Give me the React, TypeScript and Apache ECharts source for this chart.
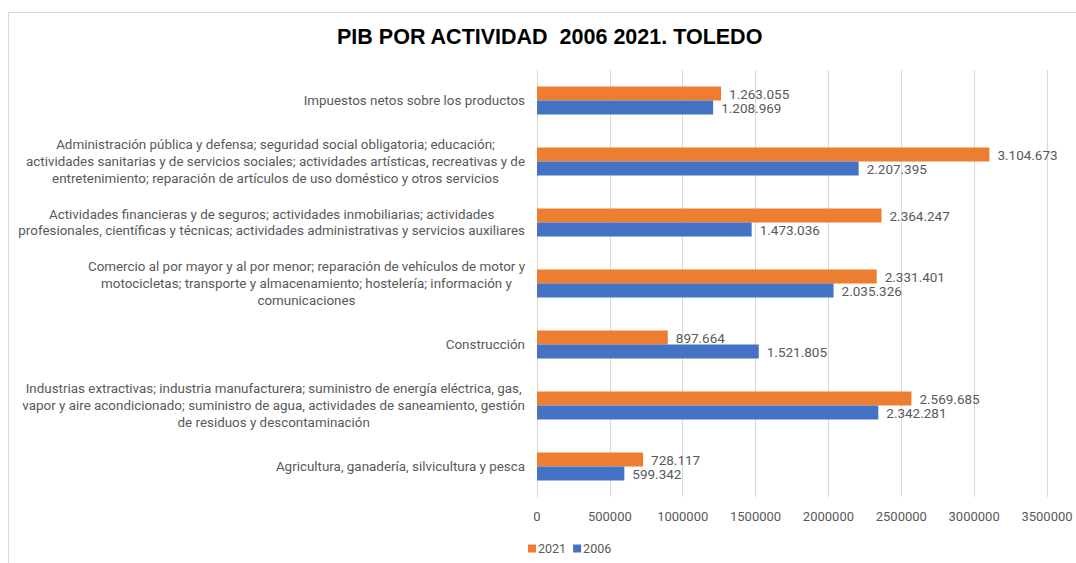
import React, { useEffect, useRef } from "react";
import * as echarts from "echarts";

// Categories listed bottom-to-top (as the category axis draws them)
const categories: string[] = [
  "Agricultura, ganadería, silvicultura y pesca",
  "Industrias extractivas; industria manufacturera; suministro de energía eléctrica, gas,\nvapor y aire acondicionado; suministro de agua, actividades de saneamiento, gestión\nde residuos y descontaminación",
  "Construcción",
  "Comercio al por mayor y al por menor; reparación de vehículos de motor y\nmotocicletas; transporte y almacenamiento; hostelería; información y\ncomunicaciones",
  "Actividades financieras y de seguros; actividades inmobiliarias; actividades\nprofesionales, científicas y técnicas; actividades administrativas y servicios auxiliares",
  "Administración pública y defensa; seguridad social obligatoria; educación;\nactividades sanitarias y de servicios sociales; actividades artísticas, recreativas y de\nentretenimiento; reparación de artículos de uso doméstico y otros servicios",
  "Impuestos netos sobre los productos",
];

const values2021: number[] = [728117, 2569685, 897664, 2331401, 2364247, 3104673, 1263055];
const values2006: number[] = [599342, 2342281, 1521805, 2035326, 1473036, 2207395, 1208969];

const xTicksMax = 3500000;
const xTickStep = 500000;

const GRAY = "#595959";
const LABEL_FONT = "Roboto, 'Noto Sans', sans-serif";

function fmt(n: number): string {
  return String(Math.round(n)).replace(/\B(?=(\d{3})+(?!\d))/g, ".");
}

export default function App() {
  const ref = useRef<HTMLDivElement>(null);

  useEffect(() => {
    if (!ref.current) return;
    const chart = echarts.init(ref.current, null, { renderer: "svg" });
    const dataLabel = {
      show: true,
      position: "right",
      distance: 8,
      color: GRAY,
      fontSize: 13.5,
      fontFamily: LABEL_FONT,
      formatter: (p: any) => fmt(p.value),
    };
    chart.setOption({
      animation: false,
      backgroundColor: "#ffffff",
      title: {
        text: "PIB POR ACTIVIDAD  2006 2021. TOLEDO",
        left: 332,
        top: 21,
        textStyle: {
          fontFamily: "'Liberation Sans', Arial, sans-serif",
          fontWeight: "bold",
          fontSize: 21.5,
          color: "#000000",
        },
      },
      graphic: [
        {
          type: "rect",
          z: -10,
          shape: { x: 8.5, y: 12.5, width: 1090, height: 570 },
          style: { fill: "none", stroke: "#d9d9d9", lineWidth: 1 },
        },
      ],
      legend: {
        data: ["2021", "2006"],
        left: 523,
        top: 537,
        icon: "rect",
        itemWidth: 8,
        itemHeight: 8,
        itemGap: 7,
        textStyle: { color: GRAY, fontSize: 12.5, fontFamily: LABEL_FONT, padding: [0, 0, 0, -3] },
      },
      grid: { left: 537, right: 29, top: 70, bottom: 66, containLabel: false },
      xAxis: {
        type: "value",
        min: 0,
        max: xTicksMax,
        interval: xTickStep,
        axisLine: { show: false },
        axisTick: { show: false },
        splitLine: { show: true, lineStyle: { color: "#d9d9d9", width: 1 } },
        axisLabel: {
          color: GRAY,
          fontSize: 13,
          fontFamily: LABEL_FONT,
          margin: 13,
          formatter: (v: number) => String(v),
        },
      },
      yAxis: {
        type: "category",
        data: categories,
        axisTick: { show: false },
        axisLine: { show: true, lineStyle: { color: "#d9d9d9", width: 1 } },
        axisLabel: {
          interval: 0,
          margin: 12,
          formatter: (v: string) =>
            v
              .split("\n")
              .map((l) => `{c|${l}}`)
              .join("\n"),
          rich: {
            c: {
              align: "center",
              color: GRAY,
              fontSize: 13.4,
              fontFamily: LABEL_FONT,
              lineHeight: 16.8,
            },
          },
        },
      },
      series: [
        {
          name: "2021",
          type: "bar",
          data: values2021,
          barWidth: 14,
          barGap: "0%",
          itemStyle: { color: "#ED7D31" },
          label: dataLabel,
        },
        {
          name: "2006",
          type: "bar",
          data: values2006,
          barWidth: 14,
          barGap: "0%",
          itemStyle: { color: "#4472C4" },
          label: dataLabel,
        },
      ],
    });
    return () => chart.dispose();
  }, []);

  return (
    <div
      ref={ref}
      style={{ position: "fixed", left: 0, top: 0, width: 1076, height: 563 }}
    />
  );
}
